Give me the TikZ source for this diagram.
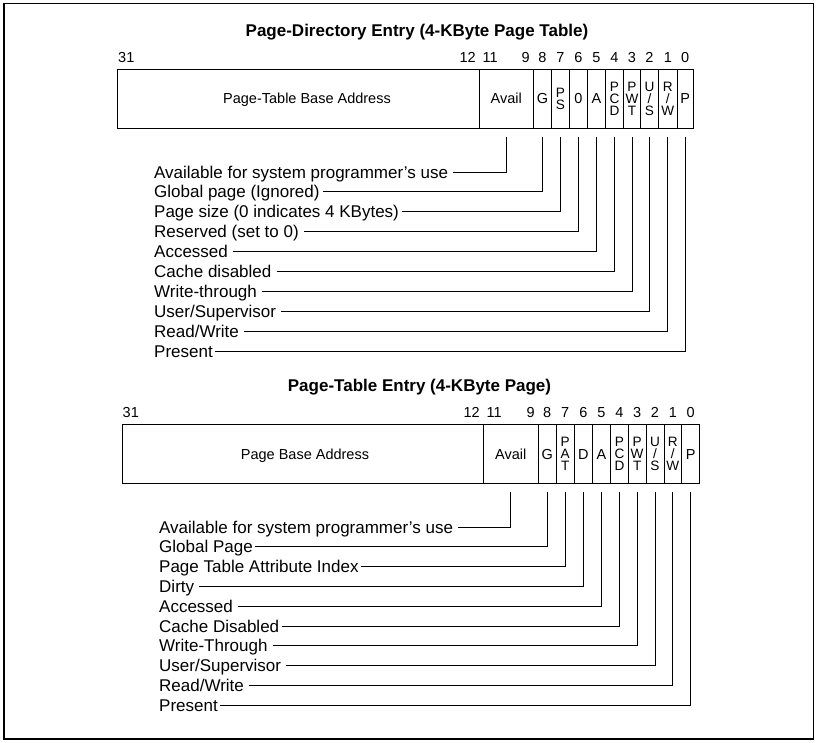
\documentclass[tikz,border=0pt]{standalone}
\usepackage{fontspec}
\setmainfont{Liberation Sans}
\newcommand\cellfont{\fontsize{14.5}{11.7}\selectfont}
\newcommand\stackfont{\fontsize{13.6}{12}\selectfont}
\newcommand\lblfont{\fontsize{17}{20}\selectfont}
\newcommand\ttlfont{\fontsize{17}{20}\selectfont\bfseries}
\begin{document}
\begin{tikzpicture}[x=1pt,y=-1pt,
  cell/.style={draw, line width=0.9pt, inner sep=0pt, outer sep=0pt, minimum height=59pt, anchor=north west},
  ctext/.style={font=\cellfont, inner sep=0pt, anchor=base},
  stack/.style={font=\stackfont, inner sep=0pt, align=center},
  bitn/.style={font=\cellfont, inner sep=0pt, anchor=base},
  lbl/.style={font=\lblfont, inner sep=0pt, anchor=west, text height=12.2pt, text depth=0pt},
  lead/.style={line width=0.9pt},
  ttl/.style={font=\ttlfont, inner sep=0pt, anchor=base}]
\useasboundingbox (0,0) rectangle (818,743);
\draw[line width=1.3pt] (4,3.6) rectangle (813.3,739);

% ---------- Page-Directory Entry ----------
\node[ttl] (t1) at (417,37) {Page-Directory Entry (4-KByte Page Table)};

\node[cell, minimum width=361.8pt] (dBase) at (117.5,69.3) {};
\node[cell, minimum width=54pt]   (dAvail) at (479.3,69.3) {};
\node[cell, minimum width=18.4pt] (dG)   at (533.3,69.3) {};
\node[cell, minimum width=17.6pt] (dPS)  at (551.7,69.3) {};
\node[cell, minimum width=18pt]   (dZ)   at (569.3,69.3) {};
\node[cell, minimum width=18.4pt] (dA)   at (587.3,69.3) {};
\node[cell, minimum width=17.6pt] (dPCD) at (605.7,69.3) {};
\node[cell, minimum width=17.4pt] (dPWT) at (623.3,69.3) {};
\node[cell, minimum width=17.6pt] (dUS)  at (640.7,69.3) {};
\node[cell, minimum width=19pt]   (dRW)  at (658.3,69.3) {};
\node[cell, minimum width=15.7pt] (dP)   at (677.3,69.3) {};

\node[ctext] (dBaseT) at (307,104) {Page-Table Base Address};
\node[ctext] (dAvailT) at (dAvail.center |- 0,104) {Avail};
\node[ctext] (dGT) at (dG.center |- 0,104) {G};
\node[stack] (dPST) at (dPS.center) {P\\S};
\node[ctext] (dZT) at (dZ.center |- 0,104) {0};
\node[ctext] (dAT) at (dA.center |- 0,104) {A};
\node[stack] (dPCDT) at (dPCD.center) {P\\C\\D};
\node[stack] (dPWTT) at (dPWT.center) {P\\W\\T};
\node[stack] (dUST) at (dUS.center) {U\\/\\S};
\node[stack] (dRWT) at (dRW.center) {R\\/\\W};
\node[ctext] (dPT) at (dP.center |- 0,104) {P};

\node[bitn, anchor=base west] (db31) at (118,62.5) {31};
\node[bitn, anchor=base east] (db12) at (476,62.5) {12};
\node[bitn, anchor=base west] (db11) at (482.5,62.5) {11};
\node[bitn, anchor=base east] (db9)  at (530,62.5) {9};
\node[bitn] (db8) at (dG.center |- 0,62.5) {8};
\node[bitn] (db7) at (dPS.center |- 0,62.5) {7};
\node[bitn] (db6) at (dZ.center |- 0,62.5) {6};
\node[bitn] (db5) at (dA.center |- 0,62.5) {5};
\node[bitn] (db4) at (dPCD.center |- 0,62.5) {4};
\node[bitn] (db3) at (dPWT.center |- 0,62.5) {3};
\node[bitn] (db2) at (dUS.center |- 0,62.5) {2};
\node[bitn] (db1) at (dRW.center |- 0,62.5) {1};
\node[bitn] (db0) at (dP.center |- 0,62.5) {0};

\node[lbl] (dl1)  at (154,172)   {Available for system programmer’s use};
\node[lbl] (dl2)  at (154,191.9) {Global page (Ignored)};
\node[lbl] (dl3)  at (154,211.8) {Page size (0 indicates 4 KBytes)};
\node[lbl] (dl4)  at (154,231.7) {Reserved (set to 0)};
\node[lbl] (dl5)  at (154,251.6) {Accessed};
\node[lbl] (dl6)  at (154,271.5) {Cache disabled};
\node[lbl] (dl7)  at (154,291.4) {Write-through};
\node[lbl] (dl8)  at (154,311.3) {User/Supervisor};
\node[lbl] (dl9)  at (154,331.2) {Read/Write};
\node[lbl] (dl10) at (154,351.1) {Present};

\draw[lead] ([xshift=5pt]dl1.east)  -| ([yshift=-9pt]dAvail.south);
\draw[lead] ([xshift=3pt]dl2.east)  -| ([yshift=-9pt]dG.south);
\draw[lead] ([xshift=3pt]dl3.east)  -| ([yshift=-9pt]dPS.south);
\draw[lead] ([xshift=5pt]dl4.east)  -| ([yshift=-9pt]dZ.south);
\draw[lead] ([xshift=5pt]dl5.east)  -| ([yshift=-9pt]dA.south);
\draw[lead] ([xshift=5pt]dl6.east)  -| ([yshift=-9pt]dPCD.south);
\draw[lead] ([xshift=5pt]dl7.east)  -| ([yshift=-9pt]dPWT.south);
\draw[lead] ([xshift=5pt]dl8.east)  -| ([yshift=-9pt]dUS.south);
\draw[lead] ([xshift=5pt]dl9.east)  -| ([yshift=-9pt]dRW.south);
\draw[lead] ([xshift=2pt]dl10.east) -| ([yshift=-9pt]dP.south);

% ---------- Page-Table Entry ----------
\node[ttl] (t2) at (419.5,391) {Page-Table Entry (4-KByte Page)};

\node[cell, minimum width=361pt]  (tBase) at (122.3,424.3) {};
\node[cell, minimum width=55pt]   (tAvail) at (483.3,424.3) {};
\node[cell, minimum width=17.7pt] (tG)   at (538.3,424.3) {};
\node[cell, minimum width=18.3pt] (tPAT) at (556,424.3) {};
\node[cell, minimum width=18pt]   (tD)   at (574.3,424.3) {};
\node[cell, minimum width=18.4pt] (tA)   at (592.3,424.3) {};
\node[cell, minimum width=17.6pt] (tPCD) at (610.7,424.3) {};
\node[cell, minimum width=17.7pt] (tPWT) at (628.3,424.3) {};
\node[cell, minimum width=18pt]   (tUS)  at (646,424.3) {};
\node[cell, minimum width=17.7pt] (tRW)  at (664,424.3) {};
\node[cell, minimum width=17.8pt] (tP)   at (681.7,424.3) {};

\node[ctext] (tBaseT) at (305,459) {Page Base Address};
\node[ctext] (tAvailT) at (tAvail.center |- 0,459) {Avail};
\node[ctext] (tGT) at (tG.center |- 0,459) {G};
\node[stack] (tPATT) at (tPAT.center) {P\\A\\T};
\node[ctext] (tDT) at (tD.center |- 0,459) {D};
\node[ctext] (tAT) at (tA.center |- 0,459) {A};
\node[stack] (tPCDT) at (tPCD.center) {P\\C\\D};
\node[stack] (tPWTT) at (tPWT.center) {P\\W\\T};
\node[stack] (tUST) at (tUS.center) {U\\/\\S};
\node[stack] (tRWT) at (tRW.center) {R\\/\\W};
\node[ctext] (tPT) at (tP.center |- 0,459) {P};

\node[bitn, anchor=base west] (tb31) at (122.5,417.5) {31};
\node[bitn, anchor=base east] (tb12) at (480,417.5) {12};
\node[bitn, anchor=base west] (tb11) at (486.5,417.5) {11};
\node[bitn, anchor=base east] (tb9)  at (535,417.5) {9};
\node[bitn] (tb8) at (tG.center |- 0,417.5) {8};
\node[bitn] (tb7) at (tPAT.center |- 0,417.5) {7};
\node[bitn] (tb6) at (tD.center |- 0,417.5) {6};
\node[bitn] (tb5) at (tA.center |- 0,417.5) {5};
\node[bitn] (tb4) at (tPCD.center |- 0,417.5) {4};
\node[bitn] (tb3) at (tPWT.center |- 0,417.5) {3};
\node[bitn] (tb2) at (tUS.center |- 0,417.5) {2};
\node[bitn] (tb1) at (tRW.center |- 0,417.5) {1};
\node[bitn] (tb0) at (tP.center |- 0,417.5) {0};

\node[lbl] (tl1)  at (159,527)   {Available for system programmer’s use};
\node[lbl] (tl2)  at (159,546.8) {Global Page};
\node[lbl] (tl3)  at (159,566.6) {Page Table Attribute Index};
\node[lbl] (tl4)  at (159,586.4) {Dirty};
\node[lbl] (tl5)  at (159,606.2) {Accessed};
\node[lbl] (tl6)  at (159,626)   {Cache Disabled};
\node[lbl] (tl7)  at (159,645.8) {Write-Through};
\node[lbl] (tl8)  at (159,665.6) {User/Supervisor};
\node[lbl] (tl9)  at (159,685.4) {Read/Write};
\node[lbl] (tl10) at (159,705.2) {Present};

\draw[lead] ([xshift=5pt]tl1.east)  -| ([yshift=-9pt]tAvail.south);
\draw[lead] ([xshift=2pt]tl2.east)  -| ([yshift=-9pt]tG.south);
\draw[lead] ([xshift=2pt]tl3.east)  -| ([yshift=-9pt]tPAT.south);
\draw[lead] ([xshift=5pt]tl4.east)  -| ([yshift=-9pt]tD.south);
\draw[lead] ([xshift=5pt]tl5.east)  -| ([yshift=-9pt]tA.south);
\draw[lead] ([xshift=3pt]tl6.east)  -| ([yshift=-9pt]tPCD.south);
\draw[lead] ([xshift=5pt]tl7.east)  -| ([yshift=-9pt]tPWT.south);
\draw[lead] ([xshift=5pt]tl8.east)  -| ([yshift=-9pt]tUS.south);
\draw[lead] ([xshift=5pt]tl9.east)  -| ([yshift=-9pt]tRW.south);
\draw[lead] ([xshift=2pt]tl10.east) -| ([yshift=-9pt]tP.south);
\end{tikzpicture}
\end{document}
